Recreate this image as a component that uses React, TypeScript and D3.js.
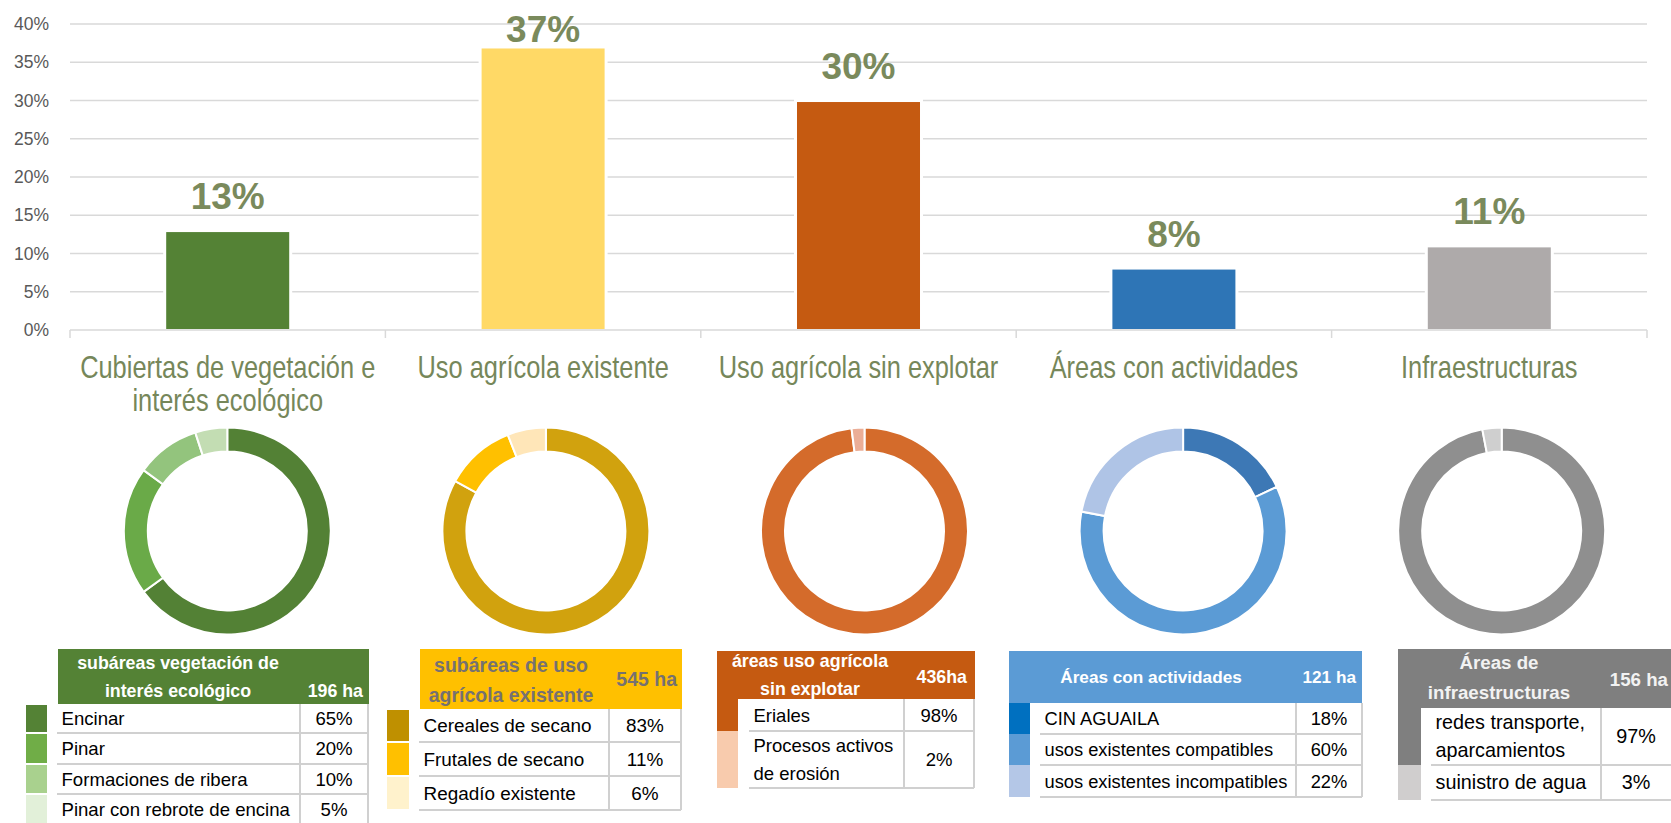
import React from "react";
import * as d3 from "d3";

// ---------- data ----------
const categories = [
  "Cubiertas de vegetación e interés ecológico",
  "Uso agrícola existente",
  "Uso agrícola sin explotar",
  "Áreas con actividades",
  "Infraestructuras",
];
const categoryLines = [
  ["Cubiertas de vegetación e", "interés ecológico"],
  ["Uso agrícola existente"],
  ["Uso agrícola sin explotar"],
  ["Áreas con actividades"],
  ["Infraestructuras"],
];
const shareValues = [0.128, 0.368, 0.298, 0.079, 0.108];
const shareLabels = ["13%", "37%", "30%", "8%", "11%"];
const barColors = ["#548235", "#FFD966", "#C55A11", "#2E75B6", "#AEAAAA"];
const yTicks = [0, 0.05, 0.1, 0.15, 0.2, 0.25, 0.3, 0.35, 0.4];

const headerTitles = [
  ["subáreas vegetación de", "interés ecológico"],
  ["subáreas de uso", "agrícola existente"],
  ["áreas uso agrícola", "sin explotar"],
  ["Áreas con actividades"],
  ["Áreas de", "infraestructuras"],
];
const headerTotals = ["196 ha", "545 ha", "436ha", "121 ha", "156 ha"];

const vegNames = ["Encinar", "Pinar", "Formaciones de ribera", "Pinar con rebrote de encina"];
const vegValues = [65, 20, 10, 5];
const agrNames = ["Cereales de secano", "Frutales de secano", "Regadío existente"];
const agrValues = [83, 11, 6];
const sinNames = ["Eriales", "Procesos activos\nde erosión"];
const sinValues = [98, 2];
const actNames = ["CIN AGUAILA", "usos existentes compatibles", "usos existentes incompatibles"];
const actValues = [18, 60, 22];
const infNames = ["redes transporte,\naparcamientos", "suinistro de agua"];
const infValues = [97, 3];

const subNames = [vegNames, agrNames, sinNames, actNames, infNames];
const subValues = [vegValues, agrValues, sinValues, actValues, infValues];

// ---------- styles ----------
const donutColors = [
  ["#538135", "#6AAA48", "#93C47D", "#C3DDB3"],
  ["#D1A20E", "#FFC000", "#FFE6B8"],
  ["#D46B2B", "#EBAE97"],
  ["#3D78B5", "#5B9BD5", "#AFC4E6"],
  ["#8F8F8F", "#CFCFCF"],
];
const swatchColors = [
  ["#548235", "#70AD47", "#A9D18E", "#E2F0D9"],
  ["#BF9000", "#FFC000", "#FFF2CC"],
  ["#C55A11", "#F8CBAD"],
  ["#0070C0", "#5B9BD5", "#B4C7E7"],
  ["#7F7F7F", "#D0CECE"],
];
const headerFills = ["#548235", "#FFC000", "#C55A11", "#5B9BD5", "#7F7F7F"];
const headerText = ["#FFFFFF", "#767171", "#FFFFFF", "#FFFFFF", "#F2F2F2"];

// table layout (text boxes)
const tableLayout = [
  { hx0: 58, hx1: 369, hy0: 649, hy1: 704, titleX: 178, titleY: [669, 697], totalX: 363, totalY: 697, sx0: 26, sx1: 47, gaps: true, bx0: 57, div: 300, bx1: 368, rows: [704, 733, 764, 794, 824], hfs: 17.8, bfs: 18.6 },
  { hx0: 420, hx1: 682, hy0: 649, hy1: 709, titleX: 511, titleY: [672, 702], totalX: 677, totalY: 686, sx0: 387, sx1: 409, gaps: true, bx0: 419, div: 609, bx1: 681, rows: [709, 742, 776, 810], hfs: 19.5, bfs: 18.9 },
  { hx0: 717, hx1: 975, hy0: 651, hy1: 699, titleX: 810, titleY: [667, 695], totalX: 967, totalY: 683, sx0: 717, sx1: 738, gaps: false, bx0: 749, div: 904, bx1: 974, rows: [699, 731, 788], hfs: 17.8, bfs: 18.5 },
  { hx0: 1009, hx1: 1362, hy0: 651, hy1: 703, titleX: 1151, titleY: [683], totalX: 1356, totalY: 683, sx0: 1009, sx1: 1030, gaps: false, bx0: 1040, div: 1296, bx1: 1362, rows: [703, 734, 765, 797], hfs: 17.2, bfs: 18.3 },
  { hx0: 1398, hx1: 1675, hy0: 649, hy1: 708, titleX: 1499, titleY: [669, 699], totalX: 1668, totalY: 686, sx0: 1398, sx1: 1421, gaps: false, bx0: 1431, div: 1601, bx1: 1675, rows: [708, 765, 800], hfs: 18.7, bfs: 19.8 },
];

const W = 1671;
const H = 823;
const SANS = "'Liberation Sans', Arial, sans-serif";
const LABEL_GREEN = "#7A8A5C";

export default function App() {
  const x = d3.scaleBand<string>().domain(categories).range([70, 1647]);
  const y = d3.scaleLinear().domain([0, 0.4]).range([330, 24]);
  const barW = x.bandwidth() * 0.39;
  const donutX = d3.scaleBand<string>().domain(categories).range([68, 1661]);
  const donutY = 531;
  const arc = d3.arc<d3.PieArcDatum<number>>().innerRadius(79.5).outerRadius(103.5);
  const pie = d3.pie<number>().sort(null).value((d) => d);

  return (
    <div style={{ position: "fixed", left: 0, top: 0, width: W, height: H, background: "#fff" }}>
      <svg width={W} height={H} style={{ display: "block" }}>
        {/* gridlines */}
        {yTicks.map((t) => (
          <line key={t} x1={70} x2={1647} y1={y(t)} y2={y(t)} stroke="#D9D9D9" strokeWidth={1.5} />
        ))}
        {/* category separators */}
        {[...categories.map((c) => x(c) as number), 1647].map((v, i) => (
          <line key={i} x1={v} x2={v} y1={330} y2={338} stroke="#D9D9D9" strokeWidth={1.5} />
        ))}
        {/* tick labels */}
        {yTicks.map((t) => (
          <text key={t} x={49} y={y(t) + 6} textAnchor="end" fontFamily={SANS} fontSize={17.5} fill="#595959">
            {d3.format(".0%")(t)}
          </text>
        ))}
        {/* bars */}
        {categories.map((c, i) => {
          const cx = (x(c) as number) + x.bandwidth() / 2;
          const top = y(shareValues[i]);
          return (
            <g key={c}>
              <rect x={cx - barW / 2 - 3} y={top - 3} width={barW + 6} height={y(0) - top + 2} fill="#fff" />
              <rect x={cx - barW / 2} y={top} width={barW} height={y(0) - top - 1} fill={barColors[i]} />
              <text x={cx} y={Math.max(top - 23, 42)} textAnchor="middle" fontFamily={SANS} fontWeight="bold" fontSize={37} fill={LABEL_GREEN}>
                {shareLabels[i]}
              </text>
            </g>
          );
        })}
        {/* category labels */}
        {categories.map((c, i) => {
          const cx = (x(c) as number) + x.bandwidth() / 2;
          return (
            <g key={c}>
              {categoryLines[i].map((l, j) => (
                <text
                  key={j}
                  transform={`translate(${cx},${378 + j * 33}) scale(0.82,1)`}
                  textAnchor="middle"
                  fontFamily={SANS}
                  fontSize={31}
                  fill="#76875A"
                >
                  {l}
                </text>
              ))}
            </g>
          );
        })}
        {/* donuts */}
        {categories.map((c, i) => {
          const cx = (donutX(c) as number) + donutX.bandwidth() / 2;
          const arcs = pie(subValues[i]);
          return (
            <g key={c} transform={`translate(${cx},${donutY})`}>
              {arcs.map((a, j) => (
                <path key={j} d={arc(a) as string} fill={donutColors[i][j]} stroke="#fff" strokeWidth={2} />
              ))}
            </g>
          );
        })}
        {/* tables */}
        {tableLayout.map((L, i) => {
          const names = subNames[i];
          const vals = subValues[i];
          return (
            <g key={i}>
              <rect x={L.hx0} y={L.hy0} width={L.hx1 - L.hx0} height={L.hy1 - L.hy0} fill={headerFills[i]} />
              {headerTitles[i].map((t, j) => (
                <text key={j} x={L.titleX} y={L.titleY[j]} textAnchor="middle" fontFamily={SANS} fontWeight="bold" fontSize={L.hfs} fill={headerText[i]}>
                  {t}
                </text>
              ))}
              <text x={L.totalX} y={L.totalY} textAnchor="end" fontFamily={SANS} fontWeight="bold" fontSize={L.hfs} fill={headerText[i]}>
                {headerTotals[i]}
              </text>
              {/* swatches */}
              {names.map((n, j) => (
                <rect
                  key={"s" + j}
                  x={L.sx0}
                  y={L.rows[j] + (L.gaps ? 1 : 0)}
                  width={L.sx1 - L.sx0}
                  height={L.rows[j + 1] - L.rows[j] - (L.gaps ? 2 : 0)}
                  fill={swatchColors[i][j]}
                />
              ))}
              {/* body */}
              <rect x={L.bx0} y={L.rows[0]} width={L.bx1 - L.bx0} height={L.rows[L.rows.length - 1] - L.rows[0]} fill="#fff" />
              {L.rows.slice(1).map((ry, j) => (
                <line key={"h" + j} x1={L.bx0} x2={L.bx1} y1={ry} y2={ry} stroke="#D0D0D0" strokeWidth={2} />
              ))}
              <line x1={L.div} x2={L.div} y1={L.rows[0]} y2={L.rows[L.rows.length - 1]} stroke="#D0D0D0" strokeWidth={2} />
              <line x1={L.bx1} x2={L.bx1} y1={L.rows[0]} y2={L.rows[L.rows.length - 1]} stroke="#D0D0D0" strokeWidth={2} />
              {names.map((n, j) => {
                const lines = n.split("\n");
                const mid = (L.rows[j] + L.rows[j + 1]) / 2 + 6.5;
                return (
                  <g key={"t" + j}>
                    {lines.map((ln, k) => (
                      <text key={k} x={L.bx0 + 4.5} y={mid + (k - (lines.length - 1) / 2) * 28} fontFamily={SANS} fontSize={L.bfs} fill="#000">
                        {ln}
                      </text>
                    ))}
                    <text x={(L.div + Math.min(L.bx1, 1671)) / 2} y={mid} textAnchor="middle" fontFamily={SANS} fontSize={L.bfs} fill="#000">
                      {vals[j] + "%"}
                    </text>
                  </g>
                );
              })}
            </g>
          );
        })}
      </svg>
    </div>
  );
}
